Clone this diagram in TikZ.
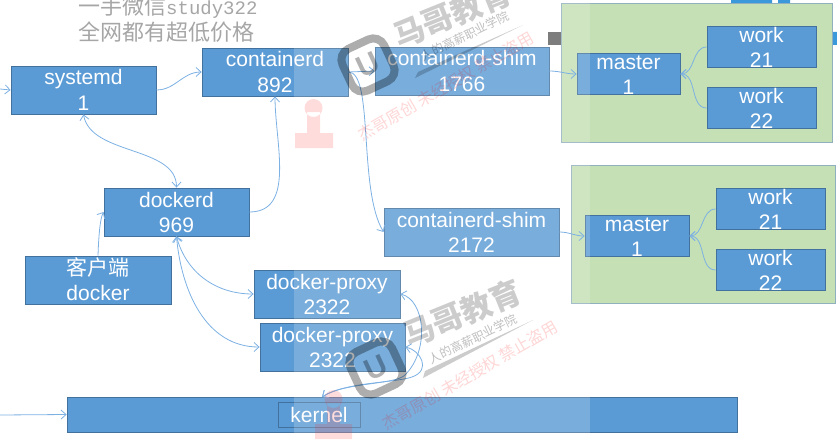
\documentclass[tikz,border=0pt]{standalone}
\usepackage{fontspec}
\setmainfont{Liberation Sans}
\newfontfamily\cjk{Noto Sans CJK SC}
\newfontfamily\notemono{Liberation Mono}
\usetikzlibrary{arrows.meta}
\definecolor{boxblue}{HTML}{5B9BD5}
\definecolor{boxline}{HTML}{41719C}
\definecolor{linkblue}{HTML}{7DB1E3}
\definecolor{groupgreen}{HTML}{C5E0B4}
\definecolor{groupline}{HTML}{8FB0BC}

\begin{document}
\begin{tikzpicture}[x=1pt, y=-1pt, font=\fontsize{21}{25}\selectfont, >={Straight Barb[length=5pt,width=9pt]},
  box/.style={draw=boxline, fill=boxblue, line width=0.8pt, text=white, inner sep=0pt, align=center, text height=44pt, text depth=4pt},
  lowbox/.style={box, text height=41pt, text depth=-1pt},
  group/.style={draw=groupline, fill=groupgreen, line width=0.8pt, inner sep=0pt},
  link/.style={draw=linkblue, line width=0.8pt},
  note/.style={anchor=base west, inner sep=0pt, text=black!35, font=\cjk\fontsize{22}{24}\selectfont},
  wmark/.style={text=black, text opacity=0.2, font=\cjk\bfseries\fontsize{31}{33}\selectfont, inner sep=0pt, rotate=22},
  wsmall/.style={text=black, text opacity=0.25, font=\cjk\fontsize{12}{13}\selectfont, inner sep=0pt, rotate=26},
  wred/.style={text=red, text opacity=0.16, font=\cjk\fontsize{16}{17}\selectfont, inner sep=0pt, rotate=30},
  logo/.style={draw=black, text=black, text opacity=0.3, draw opacity=0.32, line width=8pt, rounded corners=12pt, minimum size=46pt, inner sep=0pt, rotate=25, font=\bfseries\fontsize{30}{30}\selectfont},
  stamp/.style={fill=red!80, fill opacity=0.17}]
\useasboundingbox (0,0) rectangle (837,444);
\clip (0,0) rectangle (837,444);
% gray note
\node[note] (note1) at (78,15) {一手微信{\notemono\fontsize{19}{24}\selectfont study322}};
\node[note] (note2) at (78,41) {全网都有超低价格};
% bits of the slide behind
\fill[black!62] (548,32) rectangle (561,45);
\fill[cyan!70!blue!80] (731,0) rectangle (749,3) (746,0) rectangle (772,5) (778,0) rectangle (790,3) (832,32) rectangle (837,45);
% groups
\node[group, minimum width=271, minimum height=139] (pod1) at (696.5,72.5) {};
\node[group, minimum width=264, minimum height=138] (pod2) at (703,234) {};
% boxes
\node[box, minimum width=145, minimum height=48] (systemd) at (83.5,90) {systemd\\1};
\node[box, minimum width=146, minimum height=48] (containerd) at (275,72) {containerd\\892};
\node[box, minimum width=174, minimum height=48] (shim1) at (462,71) {containerd-shim\\1766};
\node[box, minimum width=175, minimum height=48] (shim2) at (471.5,232) {containerd-shim\\2172};
\node[box, minimum width=145, minimum height=48] (dockerd) at (176.5,212) {dockerd\\969};
\node[box, minimum width=146, minimum height=48] (client) at (98,280) {{\cjk 客户端}\\docker};
\node[box, minimum width=146, minimum height=48] (proxy1) at (327,294) {docker-proxy\\2322};
\node[box, minimum width=145, minimum height=48] (proxy2) at (332.5,347) {docker-proxy\\2322};
\node[draw=boxline, fill=boxblue, line width=0.8pt, inner sep=0pt, minimum width=670, minimum height=35] (kernel) at (402,414.5) {};
\node[draw=boxline, text=white, line width=0.6pt, inner sep=0pt, minimum width=82, minimum height=25] (kernellabel) at (319,414.5) {kernel};
% master and work
\node[lowbox, minimum width=103, minimum height=40] (master1) at (628.5,74) {master\\1};
\node[lowbox, minimum width=109, minimum height=40] (work11) at (761.5,47) {work\\21};
\node[lowbox, minimum width=109, minimum height=40] (work12) at (761.5,108) {work\\22};
\node[lowbox, minimum width=104, minimum height=40] (master2) at (637,236) {master\\1};
\node[lowbox, minimum width=109, minimum height=40] (work21) at (770.5,209) {work\\21};
\node[lowbox, minimum width=109, minimum height=40] (work22) at (770.5,270) {work\\22};
% lighter band
\fill[white, opacity=0.18] (294,0) rectangle (590,444);
% free ends
\coordinate (sysin) at (0,89);
\coordinate (kernelin) at (0,415);
\coordinate (kerneltop) at (322,397);
% links
\draw[link, ->] (sysin) -- (systemd.west);
\draw[link, ->] (kernelin) -- (kernel.west);
\draw[link, ->] (systemd.east) to[out=0, in=180] (containerd.west);
\draw[link, <->] (systemd.south) to[out=-80, in=90, looseness=0.9] (dockerd.north);
\draw[link, ->] (dockerd.east) to[out=0, in=-90] (containerd.south);
\draw[link, ->] (client.north) to[out=88, in=-120, looseness=0.5] (dockerd.west);
\draw[link, ->] (containerd.east) -- (shim1.west);
\draw[link, ->] (containerd.east) .. controls (374,72) and (358,190) .. (shim2.west);
\draw[link, ->] (shim1.east) to[out=0, in=180] (master1.west);
\draw[link, ->] (shim2.east) to[out=0, in=180] (master2.west);
\draw[link, ->] (work11.west) to[out=180, in=0] (master1.east);
\draw[link, ->] (work12.west) to[out=180, in=0] (master1.east);
\draw[link, ->] (work21.west) to[out=180, in=0] (master2.east);
\draw[link, ->] (work22.west) to[out=180, in=0] (master2.east);
\draw[link, <->] (dockerd.south) to[out=-75, in=180] (proxy1.west);
\draw[link, <->] (dockerd.south) to[out=-85, in=180] (proxy2.west);
\draw[link, <->] (proxy1.east) .. controls (425,300) and (430,350) .. (405,375) .. controls (395,385) and (345,382) .. (kerneltop);
\draw[link, <->] (proxy2.east) .. controls (420,350) and (432,370) .. (412,377) .. controls (395,383) and (345,382) .. (kerneltop);
% watermarks
\node[logo] (logo1) at (368,65) {U};
\node[logo] (logo2) at (376,368) {U};
\node[wmark] (brand1) at (452,14) {马哥教育};
\node[wmark] (brand2) at (462,313) {马哥教育};
\node[wsmall] (school1) at (465,36) {人的高薪职业学院};
\node[wsmall] (school2) at (473,339) {人的高薪职业学院};
\fill[black, opacity=0.2] (415,78) -- (523,25) -- (418,72) -- cycle;
\fill[black, opacity=0.2] (423,378) -- (533,320) -- (425,371) -- cycle;
\node[wred] (claim1) at (446,86) {杰哥原创 未经授权 禁止盗用};
\node[wred] (claim2) at (470,375) {杰哥原创 未经授权 禁止盗用};
\fill[stamp] (295,133) rectangle (333,148) (307,112) rectangle (320,133) (313.5,108) circle (9);
\fill[stamp] (315,424) rectangle (352,439) (327,403) rectangle (340,424) (333.5,399) circle (9);
\end{tikzpicture}
\end{document}
